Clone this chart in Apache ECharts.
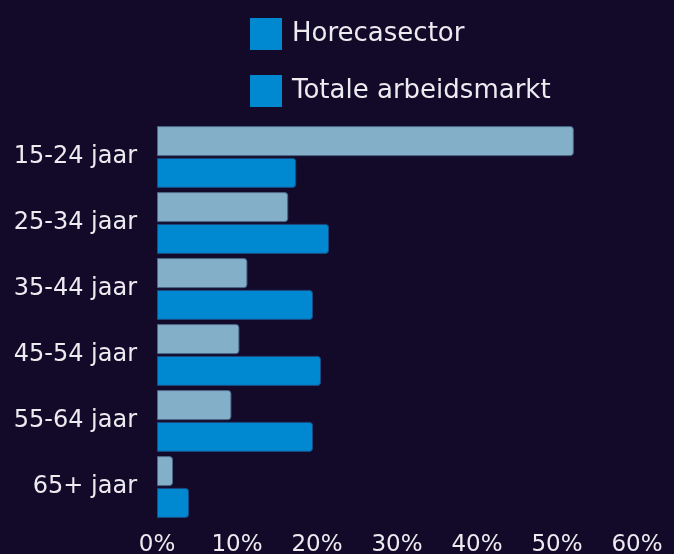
<!DOCTYPE html>
<html>
<head>
<meta charset="utf-8">
<script src="https://cdn.jsdelivr.net/npm/echarts@6/dist/echarts.min.js"></script>
<style>
  html, body { margin: 0; padding: 0; background: #130a2a; }
  #chart { width: 674px; height: 554px; }
</style>
</head>
<body>
<div id="chart"></div>
<script>
  var categories = ['15-24 jaar', '25-34 jaar', '35-44 jaar', '45-54 jaar', '55-64 jaar', '65+ jaar'];
  var horeca = [52.1, 16.4, 11.3, 10.3, 9.3, 2.0];
  var totaal = [17.4, 21.5, 19.5, 20.5, 19.5, 4.0];
  var ticks = [0, 10, 20, 30, 40, 50, 60];

  var font = 'DejaVu Sans';
  var chart = echarts.init(document.getElementById('chart'));
  chart.setOption({
    backgroundColor: '#130a2a',
    animation: false,
    legend: {
      orient: 'vertical',
      left: 245,
      top: 13,
      itemWidth: 32,
      itemHeight: 32,
      itemGap: 25,
      icon: 'rect',
      textStyle: { color: '#ecebf0', fontFamily: font, fontSize: 26, padding: [0, 0, 0, 5] },
      data: [
        { name: 'Horecasector', itemStyle: { color: '#0088d1', borderWidth: 0 } },
        { name: 'Totale arbeidsmarkt', itemStyle: { color: '#0088d1', borderWidth: 0 } }
      ]
    },
    grid: { left: 157, right: 37, top: 124, bottom: 34, outerBoundsMode: 'none' },
    xAxis: {
      type: 'value',
      min: 0,
      max: 60,
      interval: 10,
      splitLine: { show: false },
      axisLine: { show: false },
      axisTick: { show: false },
      axisLabel: {
        color: '#ecebf0', fontFamily: font, fontSize: 23, margin: 14,
        formatter: function (v) { return ticks.indexOf(v) >= 0 ? v + '%' : ''; }
      }
    },
    yAxis: {
      type: 'category',
      inverse: true,
      data: categories,
      axisLine: { show: false },
      axisTick: { show: false },
      axisLabel: { color: '#ecebf0', fontFamily: font, fontSize: 24, margin: 20 }
    },
    series: [
      {
        name: 'Horecasector',
        type: 'bar',
        data: horeca,
        barWidth: 30,
        barGap: '6%',
        itemStyle: { color: '#83afc9', borderColor: '#4a6688', borderWidth: 1, borderRadius: [0, 3, 3, 0] }
      },
      {
        name: 'Totale arbeidsmarkt',
        type: 'bar',
        data: totaal,
        barWidth: 30,
        itemStyle: { color: '#0088d1', borderColor: '#1d4a80', borderWidth: 1, borderRadius: [0, 3, 3, 0] }
      }
    ]
  });
</script>
</body>
</html>
